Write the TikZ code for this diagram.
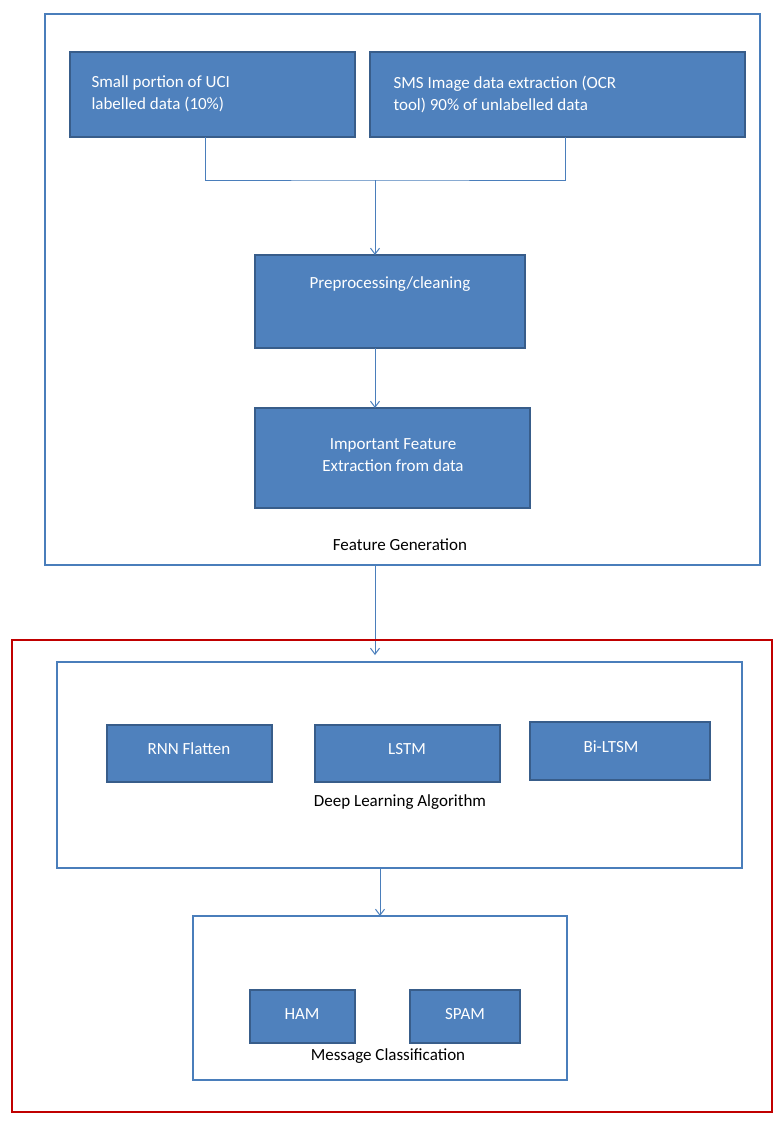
\documentclass[tikz,border=0pt]{standalone}
\usepackage{fontspec}
\setmainfont{Carlito}
\usetikzlibrary{arrows.meta}
\definecolor{bfill}{HTML}{4F81BD}
\definecolor{bdraw}{HTML}{385D8A}
\definecolor{lblue}{HTML}{4A7EBB}
\definecolor{dred}{HTML}{C00000}
\begin{document}
\begin{tikzpicture}[x=1pt,y=-1pt,
  box/.style={draw=bdraw,line width=1.6pt,fill=bfill,text=white,font=\fontsize{17}{22}\selectfont},
  frame/.style={draw=lblue,line width=1.6pt},
  lbl/.style={font=\fontsize{17}{22}\selectfont,text=black},
  arr/.style={draw=lblue,line width=1pt,-{Straight Barb[length=6pt,width=9pt]}},
  ln/.style={draw=lblue,line width=1pt}]
\useasboundingbox (0,0) rectangle (782,1122);
\fill[white] (0,0) rectangle (782,1122);
% feature generation frame
\draw[frame] (45,14) rectangle (760,565);
\node[lbl] (fg) at (400,545) {Feature Generation};
\draw[box] (70,52) rectangle (355,137);
\node[text=white,font=\fontsize{17}{22}\selectfont,align=left,anchor=west] (b1) at (88,94) {Small portion of UCI\\labelled data (10\%)};
\draw[box] (370,52) rectangle (745,137);
\node[text=white,font=\fontsize{17}{22}\selectfont,align=left,anchor=west] (b2) at (390,94) {SMS Image data extraction (OCR\\tool) 90\% of unlabelled data};
\draw[box] (255,255) rectangle (525,348);
\node[text=white,font=\fontsize{17}{22}\selectfont] (pp) at (390,284) {Preprocessing/cleaning};
\draw[box] (255,408) rectangle (530,508);
\node[text=white,font=\fontsize{17}{22}\selectfont,align=center] (fe) at (393,455) {Important Feature\\Extraction from data};
\coordinate (c1) at (205,137);
\coordinate (c2) at (565,137);
\coordinate (j) at (375,180);
\coordinate (pt) at (375,255);
\coordinate (pb) at (375,348);
\coordinate (ft) at (375,408);
\coordinate (fb) at (375,565);
\coordinate (rt) at (375,655);
\draw[ln] (c1) |- (j) -| (c2);
\draw[arr] (j) -- (pt);
\draw[arr] (pb) -- (ft);
\draw[arr] (fb) -- (rt);
% red frame
\draw[draw=dred,line width=1.8pt] (12,640) rectangle (772,1112);
\draw[frame] (57,662) rectangle (742,868);
\draw[box] (107,725) rectangle (272,782);
\node[text=white,font=\fontsize{17}{22}\selectfont] (rnn) at (189,749) {RNN Flatten};
\draw[box] (315,725) rectangle (500,782);
\node[text=white,font=\fontsize{17}{22}\selectfont] (lstm) at (407,749) {LSTM};
\draw[box] (530,722) rectangle (710,780);
\node[text=white,font=\fontsize{17}{22}\selectfont] (bi) at (611,747) {Bi-LTSM};
\node[lbl] (dl) at (400,802) {Deep Learning Algorithm};
\coordinate (db) at (380,868);
\coordinate (mt) at (380,916);
\draw[arr] (db) -- (mt);
\draw[frame] (193,916) rectangle (567,1080);
\draw[box] (250,990) rectangle (355,1043);
\node[text=white,font=\fontsize{17}{22}\selectfont] (ham) at (302,1014) {HAM};
\draw[box] (410,990) rectangle (520,1043);
\node[text=white,font=\fontsize{17}{22}\selectfont] (spam) at (465,1014) {SPAM};
\node[lbl] (mc) at (388,1056) {Message Classification};
\end{tikzpicture}
\end{document}
